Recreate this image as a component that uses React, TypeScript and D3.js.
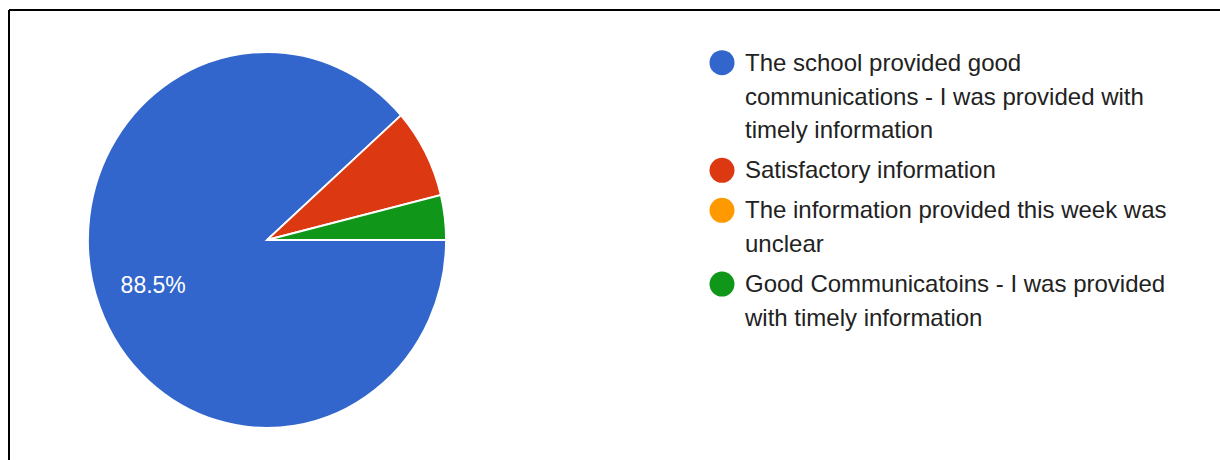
import * as d3 from "d3";
import React from "react";

const categories = [
  "The school provided good communications - I was provided with timely information",
  "Satisfactory information",
  "The information provided this week was unclear",
  "Good Communicatoins - I was provided with timely information",
];
const counts = [23, 2, 0, 1];
const colors = ["#3366cc", "#dc3912", "#ff9900", "#109618"];

const width = 1220;
const height = 460;
const font = "'Liberation Sans', Arial, sans-serif";
const fontSize = 24;

function wrap(text: string, maxWidth: number): string[] {
  const ctx = document.createElement("canvas").getContext("2d");
  if (!ctx) return [text];
  ctx.font = `${fontSize}px ${font}`;
  const words = text.split(" ");
  const lines: string[] = [];
  let line = "";
  for (const w of words) {
    const next = line ? line + " " + w : w;
    if (line && ctx.measureText(next).width > maxWidth) {
      lines.push(line);
      line = w;
    } else {
      line = next;
    }
  }
  if (line) lines.push(line);
  return lines;
}

export default function App() {
  const cx = 267;
  const cy = 240;
  const radius = 179;
  const sy = 1.05; // the picture is stretched a little vertically
  const total = d3.sum(counts);

  const pie = d3
    .pie<number>()
    .sort(null)
    .startAngle(Math.PI / 2)
    .endAngle(Math.PI / 2 + 2 * Math.PI)(counts);
  const arc = d3.arc<d3.PieArcDatum<number>>().innerRadius(0).outerRadius(radius);
  const labelArc = d3.arc<d3.PieArcDatum<number>>().innerRadius(radius * 1.36).outerRadius(0);

  // legend layout
  const legendX = 722;
  const textX = 745;
  const lineH = 33.8;
  let y = 70.7;
  const legend = categories.map((c, i) => {
    const lines = wrap(c, 428);
    const item = { lines, y, color: colors[i] };
    y += lines.length * lineH + 6.2;
    return item;
  });

  return (
    <svg
      width={width}
      height={height}
      style={{ position: "absolute", left: 0, top: 0, background: "#fff" }}
      fontFamily={font}
    >
      <line x1={9} y1={10} x2={width} y2={10} stroke="#000" strokeWidth={2} />
      <line x1={9} y1={10} x2={9} y2={height} stroke="#000" strokeWidth={2} />
      <g transform={`translate(${cx},${cy})`}>
        <g transform={`scale(1,${sy})`}>
          {pie.map((d, i) =>
            d.value > 0 ? (
              <path key={i} d={arc(d) || ""} fill={colors[i]} stroke="#fff" strokeWidth={1.8} />
            ) : null
          )}
        </g>
        {pie.map((d, i) => {
          const pct = d.value / total;
          if (pct < 0.5) return null;
          const [lx, ly] = labelArc.centroid(d);
          return (
            <text
              key={"l" + i}
              x={lx}
              y={ly * sy}
              dy="0.35em"
              textAnchor="middle"
              fill="#fff"
              fontSize={23}
            >
              {d3.format(".1%")(pct)}
            </text>
          );
        })}
      </g>
      <g>
        {legend.map((item, i) => (
          <g key={i}>
            <circle cx={legendX} cy={item.y - 8} r={12.5} fill={item.color} />
            {item.lines.map((l, j) => (
              <text key={j} x={textX} y={item.y + j * lineH} fontSize={fontSize} fill="#222">
                {l}
              </text>
            ))}
          </g>
        ))}
      </g>
    </svg>
  );
}
